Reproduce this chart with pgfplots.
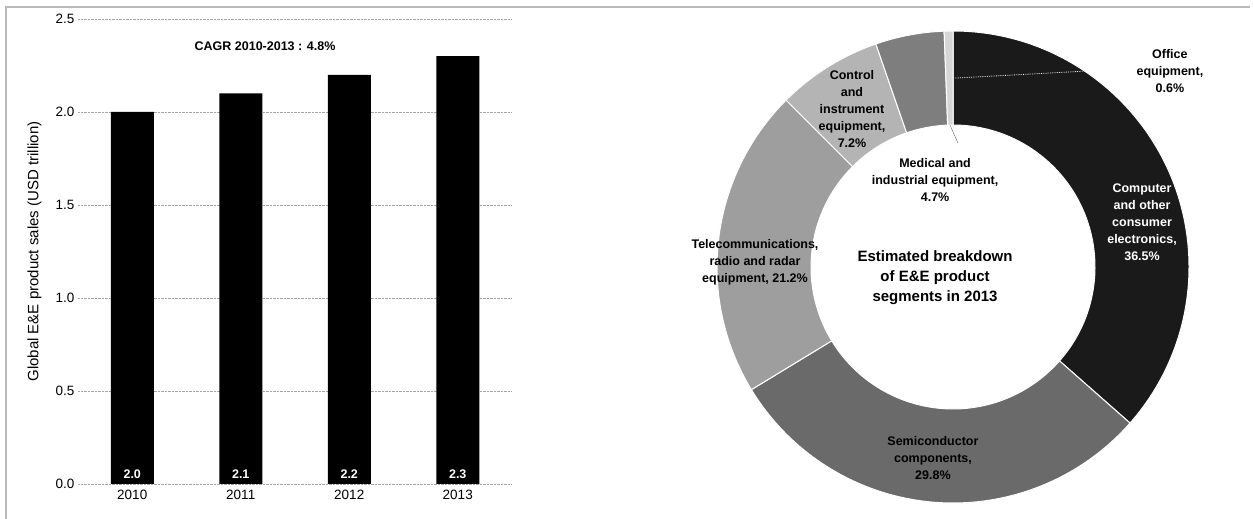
\documentclass[border=0pt]{standalone}
\usepackage{fontspec}
\setmainfont{Liberation Sans}
\usepackage{pgfplots}
\usepackage{pgfplotstable}
\pgfplotsset{compat=1.18}

\definecolor{cComp}{HTML}{1A1A1A}
\definecolor{cSemi}{HTML}{6A6A6A}
\definecolor{cTele}{HTML}{9E9E9E}
\definecolor{cCtrl}{HTML}{B4B4B4}
\definecolor{cMed}{HTML}{7E7E7E}
\definecolor{cOff}{HTML}{D6D6D6}

\pgfplotstableread[col sep=comma]{
idx,year,base,sales
0,2010,0,2.0
1,2011,0,2.1
2,2012,0,2.2
3,2013,0,2.3
}\salestable

\pgfplotstableread[col sep=comma]{
segment,share,colour
Computer,36.5,cComp
Semiconductor,29.8,cSemi
Telecom,21.2,cTele
Control,7.2,cCtrl
Medical,4.7,cMed
Office,0.6,cOff
}\segtable

\begin{document}
\begin{tikzpicture}
\useasboundingbox (0,0) rectangle (1253pt,519pt);
\draw[gray!55, line width=1.2pt] (5pt,512pt) -- (1250pt,512pt);
\draw[gray!55, line width=1.2pt] (6pt,512pt) -- (6pt,0pt);

\begin{axis}[
  at={(78pt,35pt)}, anchor=south west,
  scale only axis, width=434pt, height=465pt,
  xmin=-0.5, xmax=3.5, ymin=0, ymax=2.5,
  axis line style={draw=none}, tick style={draw=none},
  ytick={0,0.5,1,1.5,2,2.5},
  xtick={0,1,2,3}, xticklabels={2010,2011,2012,2013},
  /pgf/number format/fixed, /pgf/number format/fixed zerofill,
  /pgf/number format/precision=1, /pgf/number format/assume math mode=true,
  ymajorgrids, grid style={densely dotted, gray!70, line width=0.7pt},
  tick label style={font=\fontsize{13.5}{15}\selectfont},
  xticklabel style={yshift=-3pt},
  ylabel={Global E\&E product sales (USD trillion)},
  ylabel style={font=\fontsize{15}{17}\selectfont, at={(axis description cs:-0.1,0.5)}, anchor=center},
  clip=false,
]
\addplot[ybar, bar width=43pt, fill=black, draw=none] table[x=idx, y=sales] {\salestable};
\addplot[draw=none, mark=none, nodes near coords, point meta=explicit,
  every node near coord/.append style={white, font=\bfseries\fontsize{12.5}{15}\selectfont, anchor=south, yshift=2pt}]
  table[x=idx, y=base, meta=sales] {\salestable};
\node[font=\bfseries\fontsize{12.5}{15}\selectfont] at (axis description cs:0.431,0.942) {CAGR 2010-2013 : 4.8\%};
\end{axis}

\begin{axis}[
  at={(953pt,252pt)}, anchor=center,
  scale only axis, width=472pt, height=472pt,
  xmin=-1, xmax=1, ymin=-1, ymax=1,
  hide axis, clip=false,
]
\pgfplotsextra{
  \gdef\segstart{90}%
  \pgfplotstableforeachcolumnelement{share}\of\segtable\as\segval{%
    \pgfmathsetmacro\segend{\segstart-3.6*\segval}%
    \pgfplotstablegetelem{\pgfplotstablerow}{colour}\of\segtable
    \let\segcol\pgfplotsretval
    \filldraw[fill=\segcol, draw=white, line width=1pt, shift={(axis cs:0,0)}]
      (\segstart:236pt) arc[start angle=\segstart, end angle=\segend, radius=236pt]
      -- (\segend:142pt) arc[start angle=\segend, end angle=\segstart, radius=142pt] -- cycle;
    \xdef\segstart{\segend}%
  }%
}
\draw[white!85!gray, densely dotted, line width=0.8pt] (axis cs:0.0,0.80) -- (axis cs:0.56,0.83);
\draw[gray, line width=0.5pt] (axis cs:-0.013,0.602) -- (axis cs:0.021,0.525);
\tikzset{pl/.style={font=\bfseries\fontsize{12.5}{17}\selectfont, align=center}}
\node[pl] at (axis cs:0.919,0.831) {Office\\equipment,\\0.6\%};
\node[pl] at (axis cs:-0.428,0.669) {Control\\and\\instrument\\equipment,\\7.2\%};
\node[pl] at (axis cs:-0.076,0.369) {Medical and\\industrial equipment,\\4.7\%};
\node[pl, white] at (axis cs:0.801,0.191) {Computer\\and other\\consumer\\electronics,\\36.5\%};
\node[pl] at (axis cs:-0.839,0.021) {Telecommunications,\\radio and radar\\equipment, 21.2\%};
\node[pl] at (axis cs:-0.085,-0.809) {Semiconductor\\components,\\29.8\%};
\node[font=\bfseries\fontsize{15}{20}\selectfont, align=center] at (axis cs:-0.076,-0.047) {Estimated breakdown\\of E\&E product\\segments in 2013};
\end{axis}
\end{tikzpicture}
\end{document}
